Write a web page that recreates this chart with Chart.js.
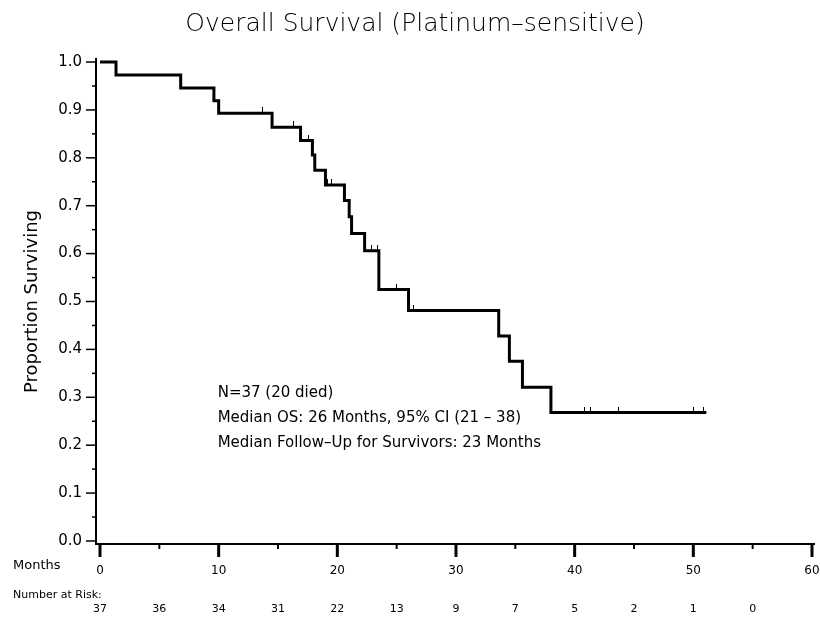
<!DOCTYPE html>
<html>
<head>
<meta charset="utf-8">
<title>Overall Survival (Platinum-sensitive)</title>
<script src="https://cdn.jsdelivr.net/npm/chart.js@4/dist/chart.umd.min.js"></script>
<style>
  body { margin: 0; background: #fff; }
  canvas { display: block; }
</style>
</head>
<body>
<canvas id="kmChart" width="820" height="618"></canvas>
<script>
// Kaplan-Meier steps (time in months, proportion surviving after the drop)
const kmTimes = [0, 1.35, 6.8, 9.6, 10.0, 14.5, 16.9, 17.9, 18.1, 19.0, 20.6, 21.0, 21.2, 22.3, 23.5, 26.0, 33.6, 34.5, 35.6, 38.0, 51.1];
const kmSurv  = [1.0, 0.973, 0.946, 0.919, 0.893, 0.864, 0.836, 0.806, 0.774, 0.743, 0.711, 0.677, 0.642, 0.606, 0.525, 0.481, 0.428, 0.375, 0.321, 0.268, 0.268];

// censored observations (months)
const censorTimes = [13.7, 16.3, 17.6, 19.2, 19.5, 22.9, 23.4, 25.0, 26.4, 40.8, 41.3, 43.7, 50.0, 50.9];

// number at risk row
const riskTimes  = [0, 5, 10, 15, 20, 25, 30, 35, 40, 45, 50, 55];
const riskCounts = [37, 36, 34, 31, 22, 13, 9, 7, 5, 2, 1, 0];

// axis ticks
const xTicks = [0, 5, 10, 15, 20, 25, 30, 35, 40, 45, 50, 55, 60];
const yTicks = [0, 0.05, 0.1, 0.15, 0.2, 0.25, 0.3, 0.35, 0.4, 0.45, 0.5, 0.55, 0.6, 0.65, 0.7, 0.75, 0.8, 0.85, 0.9, 0.95, 1.0];

const noteLines = [
    'N=37 (20 died)',
    'Median OS: 26 Months, 95% CI (21 \u2013 38)',
    'Median Follow\u2013Up for Survivors: 23 Months'
];

const FONT = '"DejaVu Sans", sans-serif';

// survival value at time t (value of the step function)
function survivalAt(t) {
    let s = kmSurv[0];
    for (let i = 0; i < kmTimes.length; i++) {
        if (kmTimes[i] <= t) s = kmSurv[i];
    }
    return s;
}

// small upward tick used as censor mark
function censorMark() {
    const c = document.createElement('canvas');
    c.width = 1;
    c.height = 12;
    const g = c.getContext('2d');
    g.fillStyle = '#000';
    g.fillRect(0, 0, 1, 6);
    return c;
}

const isMajorX = v => v % 10 === 0;
const isMajorY = v => Math.round(v * 100) % 10 === 0;

// keep the axes from shrinking the plot for edge labels
function noEdgePadding(scale) {
    scale.paddingLeft = 0;
    scale.paddingRight = 0;
    scale.paddingTop = 0;
    scale.paddingBottom = 0;
}

// tick marks, risk table and text notes
const overlay = {
    id: 'overlay',
    afterDraw(chart) {
        const ctx = chart.ctx;
        const xs = chart.scales.x, ys = chart.scales.y;
        const area = chart.chartArea;
        ctx.save();
        ctx.strokeStyle = '#000';

        xTicks.forEach(v => {
            const px = xs.getPixelForValue(v);
            ctx.lineWidth = isMajorX(v) ? 3 : 2;
            ctx.beginPath();
            ctx.moveTo(px, area.bottom);
            ctx.lineTo(px, area.bottom + (isMajorX(v) ? 13 : 5));
            ctx.stroke();
        });

        yTicks.forEach(v => {
            const py = ys.getPixelForValue(v);
            ctx.lineWidth = 1.5;
            ctx.beginPath();
            ctx.moveTo(area.left, py);
            ctx.lineTo(area.left - (isMajorY(v) ? 10 : 4), py);
            ctx.stroke();
        });

        ctx.fillStyle = '#000';
        ctx.textBaseline = 'middle';
        ctx.textAlign = 'left';
        ctx.font = '13px ' + FONT;
        ctx.fillText('Months', 13, 566);
        ctx.font = '11px ' + FONT;
        ctx.fillText('Number at Risk:', 13, 595);

        ctx.textAlign = 'center';
        ctx.font = '11px ' + FONT;
        riskTimes.forEach((t, i) => {
            ctx.fillText(String(riskCounts[i]), xs.getPixelForValue(t), 609);
        });

        ctx.textAlign = 'left';
        ctx.font = '15px ' + FONT;
        const noteX = xs.getPixelForValue(10) - 1;
        noteLines.forEach((line, i) => {
            ctx.fillText(line, noteX, 393 + i * 25);
        });
        ctx.restore();
    }
};

const ctx = document.getElementById('kmChart').getContext('2d');
Chart.defaults.font.family = FONT;
Chart.defaults.color = '#000';

new Chart(ctx, {
    type: 'line',
    data: {
        datasets: [{
            label: 'Overall survival',
            data: kmTimes.map((t, i) => ({ x: t, y: kmSurv[i] })),
            stepped: true,
            borderColor: '#000',
            borderWidth: 3,
            pointRadius: 0,
            fill: false,
            order: 2
        }, {
            type: 'scatter',
            label: 'Censored',
            data: censorTimes.map(t => ({ x: t, y: survivalAt(t) })),
            pointStyle: censorMark(),
            pointRadius: 3,
            showLine: false,
            order: 1
        }]
    },
    options: {
        responsive: false,
        animation: false,
        layout: { padding: { left: 16, right: 6, top: 0, bottom: 44 } },
        plugins: {
            legend: { display: false },
            tooltip: { enabled: false },
            title: {
                display: true,
                text: 'Overall Survival (Platinum\u2013sensitive)',
                font: { size: 25, weight: 200 },
                color: '#000',
                padding: { top: 9, bottom: 20 }
            }
        },
        scales: {
            x: {
                type: 'linear',
                min: -0.337,
                max: 60.17,
                afterBuildTicks: scale => { scale.ticks = xTicks.map(v => ({ value: v })); },
                afterFit: scale => { scale.height = 30; noEdgePadding(scale); },
                ticks: {
                    autoSkip: false,
                    maxRotation: 0,
                    padding: 7,
                    font: { size: 12 },
                    callback: v => isMajorX(v) ? String(v) : ''
                },
                grid: { drawOnChartArea: false, tickLength: 13, color: 'rgba(0,0,0,0)' },
                border: { display: true, color: '#000', width: 2 }
            },
            y: {
                type: 'linear',
                min: -0.0063,
                max: 1.0063,
                afterBuildTicks: scale => { scale.ticks = yTicks.map(v => ({ value: v })); },
                afterFit: scale => { scale.width = 80; noEdgePadding(scale); },
                ticks: {
                    autoSkip: false,
                    padding: 4,
                    font: { size: 15 },
                    callback: v => isMajorY(v) ? v.toFixed(1) : ''
                },
                grid: { drawOnChartArea: false, tickLength: 10, color: 'rgba(0,0,0,0)' },
                border: { display: true, color: '#000', width: 2 },
                title: {
                    display: true,
                    text: 'Proportion Surviving',
                    font: { size: 18 },
                    padding: { top: 6, bottom: 4 }
                }
            }
        }
    },
    plugins: [overlay]
});
</script>
</body>
</html>
